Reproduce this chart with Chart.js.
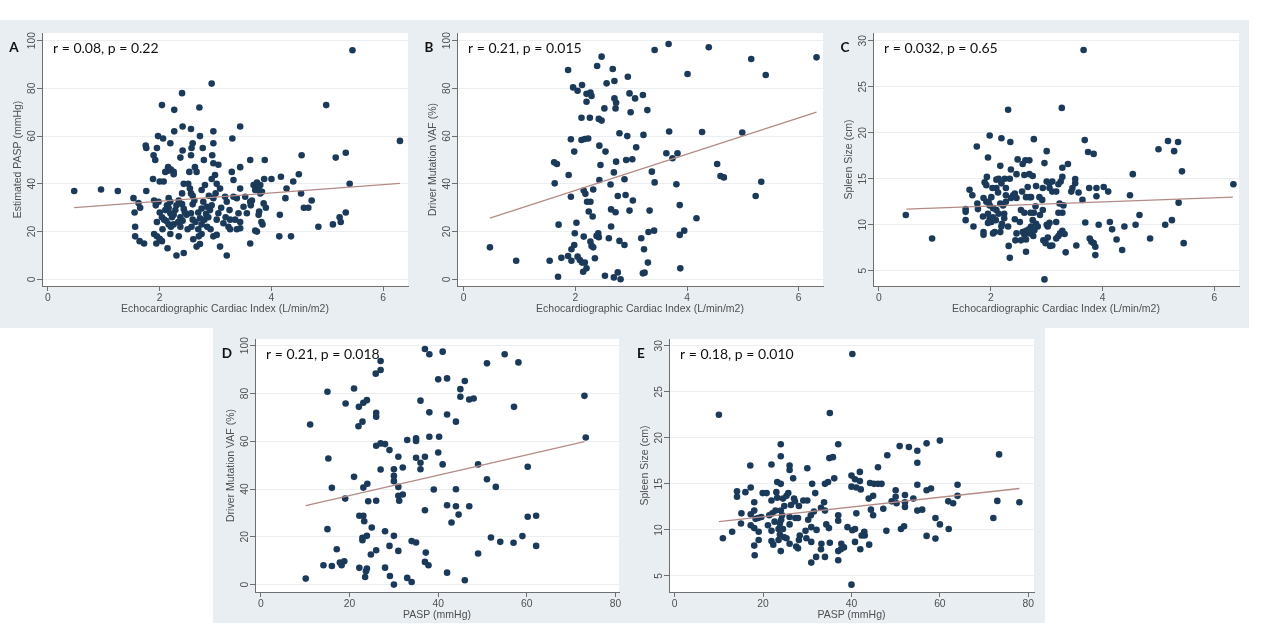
<!DOCTYPE html>
<html>
<head>
<meta charset="utf-8">
<script src="https://cdn.jsdelivr.net/npm/chart.js@4.4.1/dist/chart.umd.min.js"></script>
<style>
  html, body { margin: 0; padding: 0; background: #fff; }
  body { width: 1280px; height: 627px; position: relative; overflow: hidden; }
  .band { position: absolute; background: #e8eef2; }
  canvas { position: absolute; left: 0; top: 0; }
</style>
</head>
<body>
<div class="band" style="left:0;top:20px;width:1249px;height:308px"></div>
<div class="band" style="left:213px;top:327px;width:832px;height:296px"></div>
<canvas id="chartA" width="1280" height="627"></canvas>
<canvas id="chartB" width="1280" height="627"></canvas>
<canvas id="chartC" width="1280" height="627"></canvas>
<canvas id="chartD" width="1280" height="627"></canvas>
<canvas id="chartE" width="1280" height="627"></canvas>
<script>
// ---- data ----
const ciTicks = [0, 2, 4, 6];
const paspTicks = [0, 20, 40, 60, 80];
const pctTicks = [0, 20, 40, 60, 80, 100];
const spleenTicks = [5, 10, 15, 20, 25, 30];

// A: cardiac index vs estimated PASP
const pointsA = [
  [0.47,37],[0.95,37.6],[1.25,37],[5.45,96],[4.98,73],[6.3,58],[5.33,53],[5.15,51],[5.4,40],[5.33,28],
  [5.22,26],[5.24,24],[5.1,23],[4.84,22],[4.72,33],[4.58,30],[4.66,30],[4.53,36],[4.54,52],[4.49,44],
  [4.39,41],[4.35,18],[4.25,34],[4.27,38],[4.17,43],[4.15,27],[4.14,18],[4.0,42],[3.88,50],[3.87,42],
  [3.82,24],[3.84,23],[3.9,30],[3.74,20],[3.62,15],[3.65,33],[3.62,50],[3.44,64],[3.44,47],[3.3,59],
  [2.93,82],[2.4,78],[2.71,72],[2.26,71],[2.04,73],[2.41,64],[2.26,62],[2.56,63],[2.96,62],[2.72,60],
  [1.97,60],[2.06,59],[2.19,57],[2.59,57],[2.96,57],[2.77,55],[2.57,55],[1.75,56],[1.76,55],[1.95,55],
  [2.41,54],[1.89,52],[1.92,50],[2.56,52],[2.37,51],[2.94,52],[2.79,50],[3.44,38],
  [1.53,34],[1.55,28],[1.56,22],[1.56,18],[1.62,32],[1.65,30],[1.64,16],[1.72,15],[1.76,37],
  [1.88,42],[1.9,33],[1.93,31],[1.95,24],[1.9,19],[1.95,18],[1.94,15],[2.0,17],[2.04,16],[2.0,41],
  [2.07,41],[1.98,32.5],[2.0,28],[2.04,26],[2.08,25],[2.1,45],[2.15,45.5],[2.15,47],[2.2,46],[2.25,45],[2.25,44],
  [2.16,34],[2.19,32.5],[2.13,31],[2.16,30],[2.19,27.7],[2.22,26],[2.12,24.4],[2.16,23],[2.2,22],[2.25,23],
  [2.19,19],[2.14,13],[2.3,10],[2.43,11],[2.34,18],[2.37,22],[2.28,29],[2.3,31],[2.34,33],[2.4,36],
  [2.43,40],[2.37,26],[2.41,24.5],[2.45,28],[2.48,27],[2.43,29.5],
  [2.51,40],[2.54,38],[2.56,36],[2.59,35],[2.59,31.4],[2.56,27.7],[2.59,25],[2.57,22],[2.6,16.8],[2.53,45],
  [2.63,47],[2.66,45],[2.66,13.7],[2.72,14.8],[2.75,19],[2.69,21],[2.75,23],[2.72,25.6],[2.69,28],[2.75,29.7],
  [2.78,32.5],[2.81,39.5],[2.75,37.4],[2.8,25],[2.83,27.4],[2.84,30.4],
  [2.87,26],[2.9,29],[2.93,31],[2.96,34],[2.91,21],[2.96,18],[3.02,18.6],[2.93,42],[2.99,43.7],[3.02,40],
  [3.05,48],[2.96,48.6],[3.08,38],[3.0,36],[3.05,27.7],[3.02,25],[3.08,13.7],[3.14,23.5],[3.17,34.6],[3.2,32.5],
  [3.23,22],[3.26,25],[3.26,21],[3.29,45],[3.32,41.6],[3.32,34.6],[3.35,25],[3.38,21],[3.41,27.7],[3.2,10],
  [3.44,24],[3.5,30.4],[3.53,34.6],[3.56,27.7],[3.44,21.4],[3.38,34],
  [3.62,32.5],[3.63,31],[3.68,39.5],[3.71,37.4],[3.74,40.5],[3.77,38],[3.8,39.5],[3.83,36.7],[3.8,36],[3.77,27],
  [3.78,28.4],[3.86,31.8],[3.71,20.4],
  [2.1,29],[2.25,27],[2.33,24],[2.5,21],[2.64,24],[2.7,18],[2.85,22],[3.1,30],[3.18,26],[3.25,29],
  [2.88,35],[2.4,31.5],[2.05,21],[2.62,33]
];
const fitA = [[0.47,30.0],[6.3,40.2]];

// B: cardiac index vs driver mutation VAF
const pointsB = [
  [0.47,13.4],[0.94,7.8],[1.54,7.8],[1.75,9],[1.87,9.8],[1.93,7.8],[1.69,1.1],[1.7,22.9],[1.63,40.2],[1.62,49],
  [1.67,48.3],[1.88,43.7],[1.92,34.6],[1.92,58.7],[1.98,53.5],[1.87,87.7],[1.96,80.4],[2.04,79],[2.12,81.4],[2.11,67.7],
  [2.11,58.4],[2.17,58.8],[2.23,59],[2.2,74.4],[2.2,77.7],[2.27,78.2],[2.29,76.8],[2.26,67.7],[2.39,89.4],[2.47,93.3],
  [2.56,82.1],[2.67,88.1],[2.7,83.1],[2.42,67.2],[2.47,66.5],[2.52,71.6],[2.7,75.8],[2.73,74],[2.72,71.6],[2.94,84.9],
  [2.97,77.9],[3.07,75.8],[3.21,77.2],[3.29,70.9],[2.99,70],[2.79,61.2],[2.93,60],[3.22,60.5],[3.09,55.3],[2.91,50],
  [3.02,50.3],[2.43,56],[2.54,53.5],[2.45,47.9],[2.73,49.3],[2.69,44.8],[2.43,41.6],[2.32,37.6],[2.15,37.2],[2.18,35.8],
  [2.21,32.5],[2.27,32.5],[2.24,28.4],[2.31,26.3],[2.63,39.7],[2.76,34.9],[2.88,41.9],[2.9,35.3],[3.03,33],[2.64,29.3],
  [2.72,28.1],[2.97,28.8],[2.02,23.7],[1.99,19.3],[1.98,14.4],[1.93,12.6],[2.15,17.9],[2.38,18.2],[2.41,19.3],[2.42,17.6],
  [2.27,15.8],[2.29,14],[2.32,13.4],[2.04,9.5],[2.08,8.1],[2.12,7],[2.17,7],[2.14,3.2],[2.2,4.6],[2.35,8.8],
  [2.6,17.2],[2.64,22.1],[2.79,16.1],[2.88,14.4],[2.53,1.5],[2.69,0.8],[2.76,2.9],[2.81,0],[3.18,17.2],[3.23,12.6],
  [3.21,2.5],[3.24,2.8],[3.3,7],[3.33,28.8],[3.31,19.8],[3.41,20.4],[3.37,45.1],[3.42,40.6],[3.81,39.8],[3.87,31.1],
  [3.87,18.6],[3.95,20.4],[3.88,4.6],[4.17,25.6],[3.42,96.1],[3.67,98.6],[4.39,97.2],[4.01,86],[5.15,92.3],[5.41,85.6],
  [6.32,93],[3.68,61.9],[4.27,61.7],[4.99,61.5],[3.63,52.8],[3.83,52.8],[3.74,50.7],[4.54,48.3],[4.6,43.3],[4.66,42.7],
  [5.33,40.9],[5.23,34.9]
];
const fitB = [[0.47,25.6],[6.32,70.0]];

// C: cardiac index vs spleen size
const pointsC = [
  [0.48,11.05],[0.95,8.5],[3.66,29],[2.31,22.5],[3.27,22.7],[1.98,19.7],[2.19,19.4],[2.35,19],[2.77,19.3],[3.68,19.2],
  [1.75,18.5],[3.0,18],[3.74,17.9],[3.84,17.7],[5.0,18.2],[5.17,19.1],[5.35,19],[5.28,18],[5.42,15.8],[6.34,14.4],
  [4.54,15.5],[4.49,13.2],[4.66,11.05],[4.59,10],[4.39,9.8],[4.25,8.4],[4.35,7.25],[4.85,8.5],[5.12,10],[5.24,10.5],
  [5.36,12.4],[5.45,8.0],[4.13,10.3],[4.17,9.5],[4.02,14.1],[4.1,13.6],[3.89,14],[3.89,13.1],[3.76,14],[3.93,10],
  [3.69,10.25],[3.77,8.5],[3.8,8.15],[3.84,8],[3.87,7.6],[3.87,6.7],[3.64,12.7],[3.57,13.5],[3.51,14.96],[3.51,14.5],
  [3.46,14],[3.44,13.6],[3.53,7.75],[3.34,7],[3.38,16.6],[3.28,16.2],[3.28,15.2],[3.25,14.7],[3.21,14.4],[3.17,13.6],
  [3.1,13.6],[3.23,12.3],[3.3,12.1],[3.28,11.3],[3.21,11.3],[3.17,10.3],[3.05,10.2],[3.02,9.8],[3.0,10],[3.28,9.35],
  [3.24,9.06],[3.21,8.77],[3.32,9],[3.17,8.5],[3.1,7.75],[3.02,8.6],[2.94,8.3],[2.98,8],[2.96,16.7],[3.0,14.7],
  [3.05,14.5],[3.1,14.7],[3.05,14],[2.93,14],[2.92,12.7],[2.93,11.6],[2.87,13],[2.88,11.05],[2.81,14.2],[2.8,12],
  [2.77,11.3],[2.71,11.3],[2.75,10.5],[2.81,10.1],[2.84,9.8],[2.78,9.4],[2.72,9.8],[2.68,9.5],[2.63,9.35],[2.69,9.06],
  [2.76,8.77],[2.57,9.2],[2.6,8.9],[2.63,8.4],[2.54,8.3],[2.44,8.3],[2.63,7.07],[2.34,6.4],[2.32,7.7],[2.46,9.06],
  [2.43,10.6],[2.52,10.3],[2.54,11.6],[2.6,11.3],[2.63,13],[2.69,13],[2.72,13],[2.66,14.1],[2.6,15.4],[2.69,15.5],
  [2.75,15.3],[2.62,17],[2.69,17],[2.57,16.6],[2.56,13.6],[2.46,15.5],[2.48,17.1],[2.36,16],[2.43,13.4],[2.4,13.2],
  [2.46,12.9],[2.36,12.9],[2.27,14],[2.27,13.2],[2.27,12.5],[2.22,12.1],[2.24,11.2],[2.24,10.7],[2.2,10.1],[2.19,9.8],
  [2.17,9.2],[2.31,9.8],[2.34,15],[2.25,15],[2.14,15],[2.17,16.4],[2.1,14.9],[2.19,14.5],[2.1,14],[2.13,13.5],
  [2.17,12.3],[2.1,11.6],[2.14,11.2],[2.09,10.5],[2.07,9.2],[2.04,9.06],[2.01,10.3],[1.98,10.7],[2.04,10.8],[1.95,10.2],
  [1.95,11.2],[2.04,11.8],[1.98,12.1],[1.92,12.5],[1.96,12.5],[2.01,13],[2.03,14],[1.92,14.3],[1.89,14.6],[1.93,15.2],
  [1.95,17.3],[1.87,12.9],[1.86,10.9],[1.87,9.2],[1.87,8.9],[1.76,12.3],[1.77,11.7],[1.69,9.8],[1.67,13.2],[1.62,13.8],
  [1.55,11.7],[1.55,11.4],[1.55,10.5],[2.96,4.06],[3.06,7.7]
];
const fitC = [[0.49,11.7],[6.33,13.0]];

// D: PASP vs driver mutation VAF
const pointsD = [
  [10.1,2.5],[11.1,67],[14.1,8.1],[15,23.2],[15.2,52.8],[15,80.7],[16,40.5],[16,7.8],[17.1,14.8],[17.8,9.2],
  [18.2,8.1],[18.8,9.8],[19,36],[19.1,75.8],[21,82.1],[21,45.1],[22,66.3],[22.1,74.4],[22.2,28.8],[22.2,7],
  [22.9,68.2],[23.1,76.1],[23.9,77.2],[23.1,28.8],[23.3,26.5],[22.9,19.6],[22.9,18.6],[23.9,20.4],[23.1,40.6],[24,42.2],
  [24.2,34.9],[23.7,5.6],[23.9,6.7],[23.5,3.2],[24.8,12.6],[25,23.9],[25.9,88.3],[27,89.8],[27,93.6],[26,71.9],
  [26,70.3],[26,58.1],[26,35.1],[26,14.4],[27,59.1],[28,58.8],[27,48.2],[29,56.3],[28,22.3],[28,7.1],
  [29,16.2],[29.1,3.6],[30,48.3],[30,45.5],[30,43.3],[30,20.4],[30,0],[31,53.5],[31,40.9],[31,37.2],
  [31.2,35.1],[31,14.1],[32,37.7],[32,49],[33,60.5],[33,2.8],[34,1.1],[34,18.2],[35,17.6],[35,61.2],
  [35,60.1],[35,53.1],[36,51],[36,48.3],[36,77],[37,98.6],[38,96.4],[37,53.5],[37,31.1],[37.2,13.4],
  [37,9.5],[37.8,8.1],[38,72.1],[38,61.9],[39,39.8],[40,85.9],[40,55.3],[40.2,61.9],[41,97.5],[41,50.3],
  [42,86.3],[42,71.2],[42,33.2],[42,5],[43,26],[44,68.2],[44,39.9],[44,32.8],[44.6,29.3],[45,81.8],
  [45,78.6],[46,85.2],[46,1.8],[47,77.5],[48,77.9],[47,32.8],[49,50.3],[49,13],[51,92.6],[51,44.1],
  [51.9,19.7],[53,40.9],[54,17.9],[55,96.4],[57.1,74.4],[57,17.5],[58.1,93],[59,20.3],[60.2,49.3],[60.2,28.4],
  [62.1,28.8],[62.1,16.2],[73,79],[73.3,61.6]
];
const fitD = [[10.1,33.1],[73,59.8]];

// E: PASP vs spleen size
const pointsE = [
  [10,22.5],[35.1,22.7],[40.2,29.1],[10.9,9.1],[13,9.8],[14.1,14.2],[14.1,13.6],[15,10.7],[15.1,11.8],[16,14.1],
  [17.1,17],[17.2,14.6],[17.2,11.7],[17.2,10.5],[18,13],[18,12.1],[18,10.2],[18,8.3],[18.1,7.25],[18.3,11.2],
  [18.9,11.3],[19,9.8],[19,8.9],[19.6,11.4],[19.9,14],[20.8,14],[21.1,10.5],[21.4,11.6],[21.9,17.1],[21.9,13.2],
  [22.1,11.8],[21.9,9.9],[21.9,8.8],[22.3,8.4],[22.6,10.9],[22.8,12.1],[23,14.1],[23.2,13.5],[23.2,15.2],[23.5,10.1],
  [23.8,10.7],[23.8,9.5],[23.5,8.9],[24,7.7],[24,18],[24,19.3],[24,15],[24,12.1],[24.3,11.6],[24.1,11.1],
  [24.5,10.1],[24.8,9.2],[25.3,9.1],[24.5,13.4],[25.3,13.7],[25.7,14],[24.8,12.6],[26,16.5],[26,17],[26,10.6],
  [26,11.4],[26,8.5],[26.3,12.7],[26.8,15.6],[27,13.4],[27.2,13.1],[27.3,11.3],[27.5,8.2],[27.9,8],[28.1,12.6],
  [27.9,11.3],[28.3,9.4],[28.1,8.9],[29.1,13.2],[30,13.2],[30,16.7],[29.6,9.9],[29.8,9.1],[30.2,11.1],[30.8,11.6],
  [30.9,10.3],[30.9,8.7],[30.9,6.45],[31.1,15],[31.5,12],[31.8,14],[32.1,10],[32,7.07],[33.1,12.4],[33.1,7.9],
  [33.2,8.5],[33.8,13],[34,12.1],[34,7.07],[34,15],[34.3,10.6],[34.7,15.2],[35,17.8],[35.1,8.6],[34.9,10.2],
  [35.8,17.9],[36.1,15.6],[37,19.3],[37,11.6],[37,11],[37,7.7],[37,6.7],[37.7,8.5],[37.6,7.9],[38.3,8.1],
  [39.1,10.3],[40,15.9],[40,14.7],[40.2,9.96],[40.8,10.1],[40.8,8.7],[41.1,11.8],[41.1,14.6],[40.8,15.5],[41.9,16.3],
  [41.9,15.3],[42.1,14.4],[42,7.9],[42.3,9.4],[42.9,9.8],[43,9.4],[43.9,13.4],[44.2,15.1],[44.4,12.2],[44,8.4],
  [44.9,11.6],[44.9,13.7],[45.1,15],[46,15],[46.8,15],[46,16.8],[47.2,12.3],[47.9,9.9],[48.1,18.1],[49.1,13.1],
  [50,14.3],[50,13.6],[50.2,12.9],[50.9,19.1],[51.2,10.1],[51.9,10.4],[52.1,13.8],[52.1,13],[52.1,12.5],[53,19],
  [54,13.4],[54.9,18.6],[54.9,17.3],[54.9,14.9],[54.9,12.1],[56,12.2],[57,19.4],[57,14.3],[57,9.35],[58,14.5],
  [59,11.3],[59,9.06],[60,19.7],[60,10.6],[61.9,13.1],[62,10.1],[63,12.9],[64,14.9],[64,13.7],[72.1,11.3],
  [73,13.15],[73.4,18.2],[78,13],[40,4.06]
];
const fitE = [[10,10.9],[78,14.5]];

// ---- styling ----
const DOT = '#1b3a5a';
const FIT = '#b48a86';
const AXIS = '#6f6f6f';
const GRID = '#eceff2';
const TICK_TEXT = '#4f4f4f';
const SANS = '"Liberation Sans", Arial, sans-serif';

const panelDecor = {
  id: 'panelDecor',
  beforeDraw(chart) {
    const { ctx, chartArea: a } = chart;
    ctx.save();
    ctx.fillStyle = '#ffffff';
    ctx.fillRect(a.left, a.top, a.right - a.left, a.bottom - a.top);
    ctx.restore();
  },
  afterDraw(chart, args, o) {
    const { ctx, chartArea: a, scales: { x, y } } = chart;
    ctx.save();
    ctx.fillStyle = TICK_TEXT;
    ctx.font = '10.3px ' + SANS;
    ctx.textAlign = 'center';
    ctx.textBaseline = 'middle';
    o.xTicks.forEach(v => ctx.fillText(String(v), x.getPixelForValue(v), a.bottom + 12));
    o.yTicks.forEach(v => {
      ctx.save();
      ctx.translate(a.left - 10, y.getPixelForValue(v));
      ctx.rotate(-Math.PI / 2);
      ctx.fillText(String(v), 0, 0);
      ctx.restore();
    });
    ctx.font = '10.5px ' + SANS;
    ctx.fillText(o.xTitle, (a.left + a.right) / 2, a.bottom + 23);
    ctx.save();
    ctx.translate(a.left - 23.5, (a.top + a.bottom) / 2);
    ctx.rotate(-Math.PI / 2);
    ctx.fillText(o.yTitle, 0, 0);
    ctx.restore();

    ctx.fillStyle = '#111';
    ctx.font = 'bold 13.5px Lato, ' + SANS;
    ctx.fillText(o.letter, a.left - 28, a.top + 15);
    ctx.textAlign = 'left';
    ctx.font = '14px Lato, ' + SANS;
    ctx.fillText(o.stat, a.left + 11, a.top + 15);
    ctx.restore();
  }
};

function makePanel(id, p) {
  new Chart(document.getElementById(id), {
    type: 'scatter',
    data: {
      datasets: [
        {
          data: p.points.map(([x, y]) => ({ x, y })),
          backgroundColor: DOT,
          borderWidth: 0,
          pointRadius: 3.3,
          order: 2
        },
        {
          type: 'line',
          data: p.fit.map(([x, y]) => ({ x, y })),
          borderColor: FIT,
          borderWidth: 1.3,
          pointRadius: 0,
          fill: false,
          order: 1
        }
      ]
    },
    options: {
      responsive: false,
      animation: false,
      events: [],
      layout: {
        padding: { left: p.box[0] - 10, top: p.box[1], right: 1280 - p.box[2], bottom: 627 - p.box[3] - 10 }
      },
      plugins: {
        legend: { display: false },
        tooltip: { enabled: false },
        panelDecor: p.decor
      },
      scales: {
        x: {
          type: 'linear', min: p.xRange[0], max: p.xRange[1],
          afterBuildTicks: s => { s.ticks = p.decor.xTicks.map(v => ({ value: v })); },
          afterFit: s => { s.height = 10; },
          ticks: { display: false },
          grid: { drawOnChartArea: false, drawTicks: true, tickLength: 5, tickColor: AXIS, tickWidth: 1 },
          border: { display: true, color: AXIS, width: 1 }
        },
        y: {
          type: 'linear', min: p.yRange[0], max: p.yRange[1],
          afterBuildTicks: s => { s.ticks = p.decor.yTicks.map(v => ({ value: v })); },
          afterFit: s => { s.width = 10; },
          ticks: { display: false },
          grid: { color: GRID, lineWidth: 1, drawTicks: true, tickLength: 5, tickColor: AXIS, tickWidth: 1 },
          border: { display: true, color: AXIS, width: 1 }
        }
      }
    },
    plugins: [panelDecor]
  });
}

const ciTitle = 'Echocardiographic Cardiac Index (L/min/m2)';

makePanel('chartA', {
  points: pointsA, fit: fitA,
  box: [42, 33, 408, 286], xRange: [-0.107, 6.444], yRange: [-2.8, 103.2],
  decor: { xTicks: ciTicks, yTicks: pctTicks, xTitle: ciTitle, yTitle: 'Estimated PASP (mmHg)', letter: 'A', stat: 'r = 0.08, p = 0.22' }
});
makePanel('chartB', {
  points: pointsB, fit: fitB,
  box: [457, 33, 823, 286], xRange: [-0.12, 6.436], yRange: [-2.8, 103.2],
  decor: { xTicks: ciTicks, yTicks: pctTicks, xTitle: ciTitle, yTitle: 'Driver Mutation VAF (%)', letter: 'B', stat: 'r = 0.21, p = 0.015' }
});
makePanel('chartC', {
  points: pointsC, fit: fitC,
  box: [873, 33, 1239, 286], xRange: [-0.107, 6.44], yRange: [3.34, 30.84],
  decor: { xTicks: ciTicks, yTicks: spleenTicks, xTitle: ciTitle, yTitle: 'Spleen Size (cm)', letter: 'C', stat: 'r = 0.032, p = 0.65' }
});
makePanel('chartD', {
  points: pointsD, fit: fitD,
  box: [255, 339, 619, 592], xRange: [-1.35, 80.8], yRange: [-3.1, 102.8],
  decor: { xTicks: paspTicks, yTicks: pctTicks, xTitle: 'PASP (mmHg)', yTitle: 'Driver Mutation VAF (%)', letter: 'D', stat: 'r = 0.21, p = 0.018' }
});
makePanel('chartE', {
  points: pointsE, fit: fitE,
  box: [669, 339, 1034, 592], xRange: [-1.29, 81.3], yRange: [3.26, 30.73],
  decor: { xTicks: paspTicks, yTicks: spleenTicks, xTitle: 'PASP (mmHg)', yTitle: 'Spleen Size (cm)', letter: 'E', stat: 'r = 0.18, p = 0.010' }
});
</script>
</body>
</html>
